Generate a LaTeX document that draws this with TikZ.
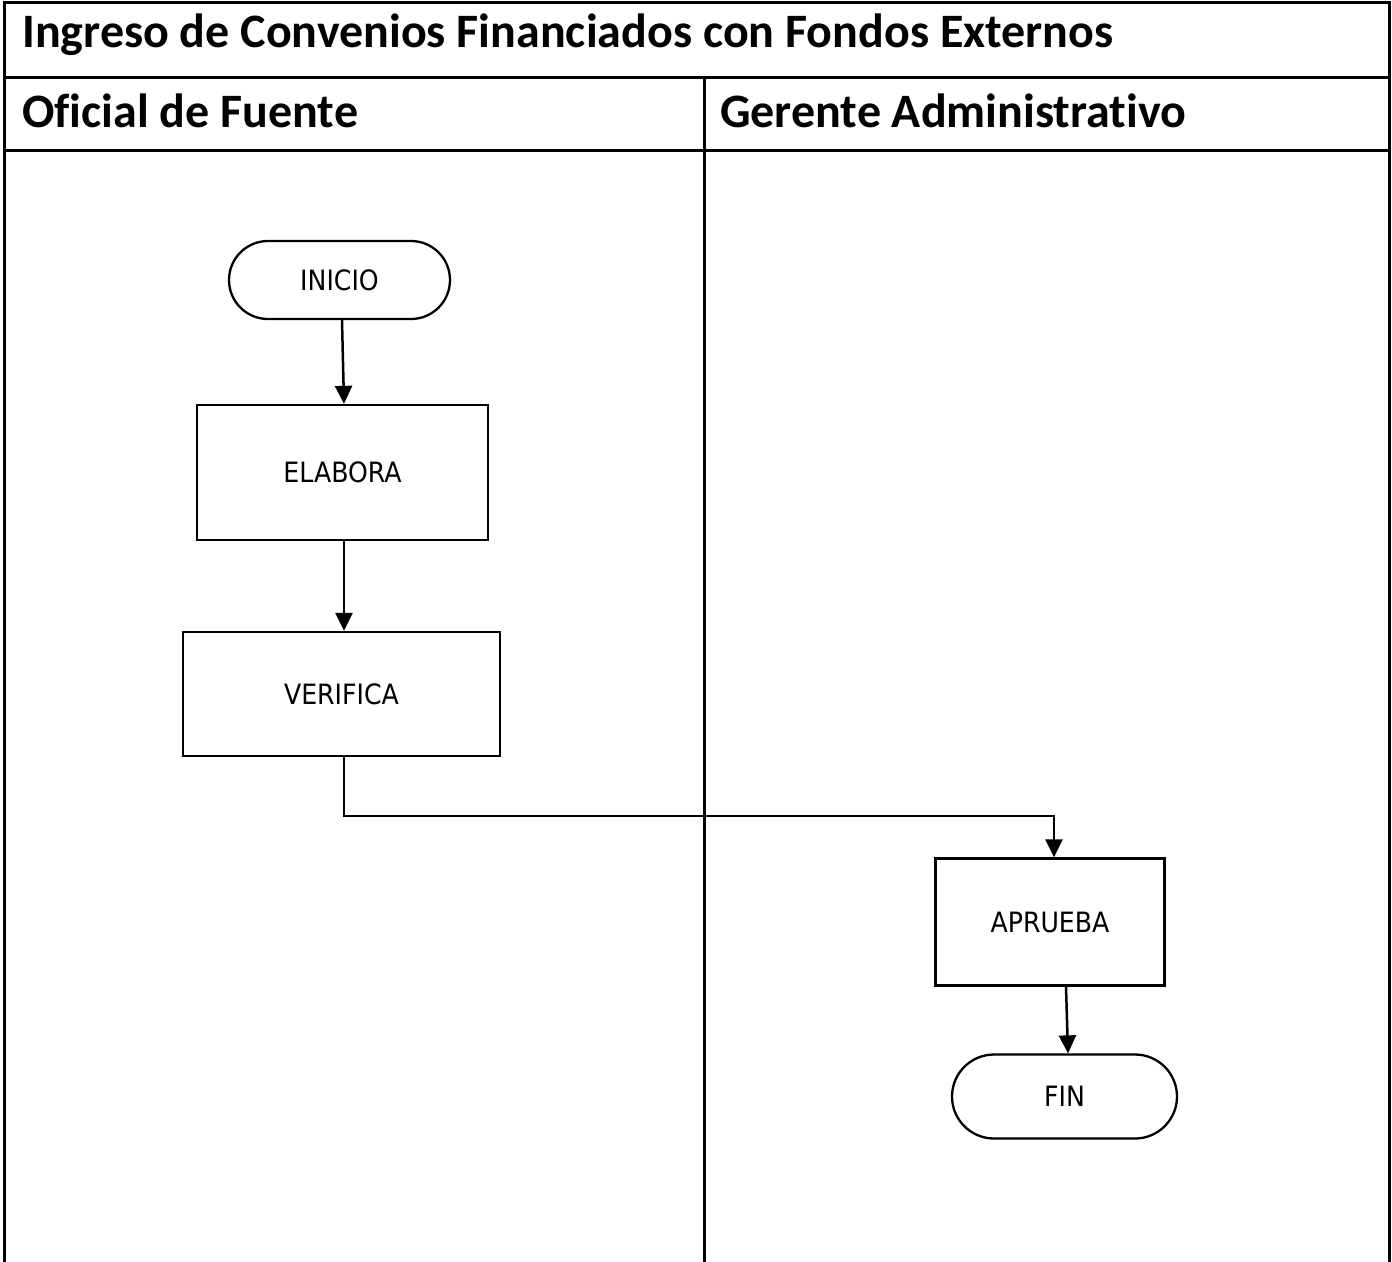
\documentclass[tikz,border=0pt]{standalone}
\usepackage{fontspec}
\setmainfont{Carlito}[Ligatures={NoCommon}]
\newfontfamily\nodefont{DejaVu Sans Condensed}
\usetikzlibrary{arrows.meta}
\begin{document}
\begin{tikzpicture}[x=1pt,y=-1pt,
  frame/.style={line width=3pt, line cap=rect},
  hdr/.style={anchor=base west, inner sep=0pt, font=\fontsize{48}{52}\selectfont\bfseries},
  proc/.style={draw, line width=2.3pt, inner sep=0pt, font=\nodefont\fontsize{28}{32}\selectfont},
  term/.style={proc, rounded corners=39pt},
  flow/.style={line width=2.5pt, -{Triangle[length=18pt,width=17pt]}}]
\useasboundingbox (0,0) rectangle (1392,1261);
% table
\draw[frame] (4,1261) -- (4,2) -- (1389,2) -- (1389,1261);
\draw[frame] (4,77) -- (1389,77);
\draw[frame] (4,150) -- (1389,150);
\draw[frame] (704,77) -- (704,1261);
\node[hdr] (title) at (22,47) {Ingreso de Convenios Financiados con Fondos Externos};
\node[hdr] (lane1) at (22,127) {Oficial de Fuente};
\node[hdr] (lane2) at (720,127) {Gerente Administrativo};
% nodes
\node[term, minimum width=221pt, minimum height=78pt] (inicio) at (339.5,280) {INICIO};
\node[proc, minimum width=291pt, minimum height=135pt] (elabora) at (342.5,472.5) {ELABORA};
\node[proc, minimum width=317pt, minimum height=124pt] (verifica) at (341.5,694) {VERIFICA};
\node[proc, minimum width=229pt, minimum height=127pt] (aprueba) at (1050,922) {APRUEBA};
\node[term, rounded corners=42pt, minimum width=225pt, minimum height=84pt] (fin) at (1064.5,1096.5) {FIN};
% connectors
\draw[flow] ([xshift=2.5pt]inicio.south) -- ([xshift=1.5pt]elabora.north);
\draw[flow] ([xshift=1.5pt]elabora.south) -- ([xshift=2.5pt]verifica.north);
\draw[flow] ([xshift=2.5pt]verifica.south) -- ++(0,59) -| ([xshift=4pt]aprueba.north);
\draw[flow] ([xshift=16pt]aprueba.south) -- ([xshift=3.5pt]fin.north);
\end{tikzpicture}
\end{document}
